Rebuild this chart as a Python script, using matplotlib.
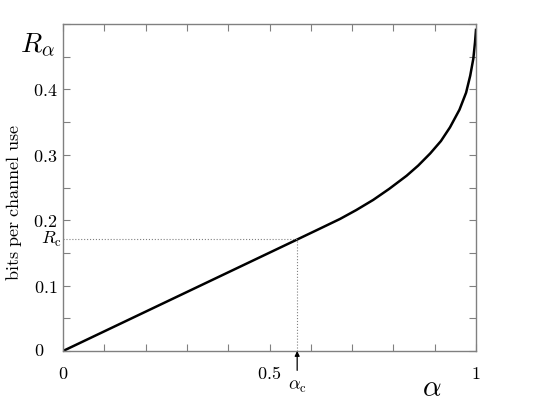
import matplotlib
matplotlib.use("Agg")
import matplotlib.pyplot as plt
import numpy as np

plt.rcParams['mathtext.fontset'] = 'cm'
plt.rcParams['font.family'] = 'serif'
plt.rcParams['font.serif'] = ['DejaVu Serif']

# curve
alpha = [0.0, 0.567, 0.62, 0.671, 0.71, 0.751, 0.79, 0.832, 0.86, 0.889,
         0.915, 0.937, 0.96, 0.976, 0.986, 0.9935, 0.9976, 1.0]
rate = [0.0, 0.1705, 0.1865, 0.202, 0.2155, 0.231, 0.248, 0.268, 0.2835, 0.302,
        0.321, 0.342, 0.369, 0.395, 0.421, 0.447, 0.472, 0.491]

alpha_c = 0.567
rate_c = 0.1705

xticks = [0, 0.1, 0.2, 0.3, 0.4, 0.5, 0.6, 0.7, 0.8, 0.9, 1.0]
xlabels = ['$0$', '', '', '', '', '$0.5$', '', '', '', '', '$1$']
yticks = [0, 0.05, 0.1, 0.15, 0.2, 0.25, 0.3, 0.35, 0.4, 0.45, 0.5]
ylabels = ['', '', '$0.1$', '', '$0.2$', '', '$0.3$', '', '$0.4$', '', '']

fig = plt.figure(figsize=(5.45, 4.09), dpi=100)
ax = fig.add_axes([0.1156, 0.1418, 0.7578, 0.7995])

ax.plot(alpha, rate, color='black', linewidth=1.8, solid_joinstyle='round')
ax.plot([0, alpha_c], [rate_c, rate_c], color='gray', linestyle=':', linewidth=0.8)
ax.plot([alpha_c, alpha_c], [0, rate_c], color='gray', linestyle=':', linewidth=0.8)

ax.set_xlim(0, 1)
ax.set_ylim(0, 0.5)
ax.set_xticks(xticks)
ax.set_xticklabels(xlabels, fontsize=13)
ax.set_yticks(yticks)
ax.set_yticklabels(ylabels, fontsize=13)
ax.tick_params(axis='x', direction='in', length=5, color='gray', top=True, pad=10)
ax.tick_params(axis='y', direction='in', length=5, color='gray', right=True, pad=4)
for s in ax.spines.values():
    s.set_color('gray')
    s.set_linewidth(1.0)

ax.text(-0.058, 0, '$0$', transform=ax.get_yaxis_transform(), fontsize=13,
        ha='center', va='center')
ax.text(-0.003, rate_c, r'$R_{\rm c}$', transform=ax.get_yaxis_transform(),
        fontsize=13, ha='right', va='center')
ax.annotate(r'$\alpha_{\rm c}$', xy=(alpha_c, 0), xytext=(alpha_c, -0.054),
            fontsize=13, ha='center', va='center',
            arrowprops=dict(arrowstyle='-|>', color='black', lw=0.9,
                            shrinkA=3, shrinkB=0, mutation_scale=7),
            annotation_clip=False)

fig.text(37 / 545, 1 - 45 / 409, r'$R_\alpha$', fontsize=20, ha='center', va='center')
fig.text(432 / 545, 1 - 388 / 409, r'$\alpha$', fontsize=21, ha='center', va='center')
fig.text(14 / 545, 1 - 203 / 409, r'$\mathrm{bits\ per\ channel\ use}$', fontsize=13,
         rotation=90, ha='center', va='center')

fig.savefig('out.png', dpi=100)
